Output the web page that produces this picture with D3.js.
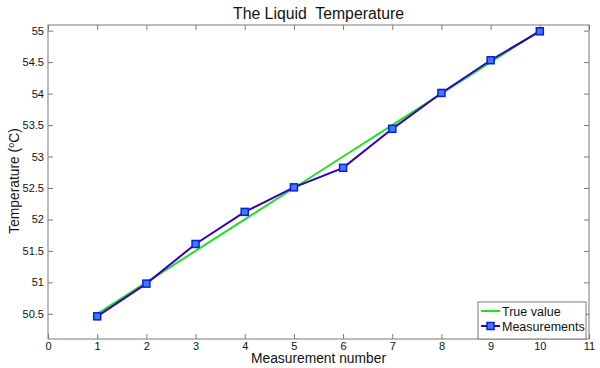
<!DOCTYPE html>
<html><head><meta charset="utf-8">
<script src="https://cdn.jsdelivr.net/npm/d3@7"></script>
<style>
body{margin:0;background:#fff;}
text{font-family:"Liberation Sans",Arial,sans-serif;fill:#111;}
</style></head>
<body><svg id="c" width="600" height="368"></svg>
<script>
const measurementNumbers = [1,2,3,4,5,6,7,8,9,10];
const trueValues = [50.5,51.0,51.5,52.0,52.5,53.0,53.5,54.0,54.5,55.0];
const measurements = [50.46,50.98,51.61,52.12,52.51,52.82,53.44,54.01,54.53,54.99];
const xTicks = [0,1,2,3,4,5,6,7,8,9,10,11];
const yTicks = [50.5,51,51.5,52,52.5,53,53.5,54,54.5,55];
const seriesNames = ["True value","Measurements"];

const svg = d3.select("#c");
const L=48, R=589, T=25, B=339;
const x = d3.scaleLinear().domain([0,11]).range([L,R]);
const y = d3.scaleLinear().domain([50.1,55.09]).range([B,T]);
const axisCol = "#7a7a7a";

svg.append("rect").attr("x",L).attr("y",T).attr("width",R-L).attr("height",B-T)
  .attr("fill","#fff").attr("stroke",axisCol).attr("stroke-width",1);

function styleAxis(g){ g.select(".domain").remove(); g.selectAll("line").attr("stroke",axisCol);
  g.selectAll("text").attr("font-size",11).attr("fill","#222"); }

svg.append("g").attr("transform",`translate(0,${B})`)
  .call(d3.axisBottom(x).tickValues(xTicks).tickFormat(d3.format("d")).tickSizeInner(-5).tickSizeOuter(0).tickPadding(3))
  .call(styleAxis);
svg.append("g").attr("transform",`translate(0,${T})`)
  .call(d3.axisTop(x).tickValues(xTicks).tickFormat("").tickSizeInner(-5).tickSizeOuter(0))
  .call(styleAxis);
svg.append("g").attr("transform",`translate(${L},0)`)
  .call(d3.axisLeft(y).tickValues(yTicks).tickFormat(d=>String(d)).tickSizeInner(-5).tickSizeOuter(0).tickPadding(4))
  .call(styleAxis);
svg.append("g").attr("transform",`translate(${R},0)`)
  .call(d3.axisRight(y).tickValues(yTicks).tickFormat("").tickSizeInner(-5).tickSizeOuter(0))
  .call(styleAxis);

const line = d3.line().x((d,i)=>x(measurementNumbers[i])).y(d=>y(d));
svg.append("path").datum(trueValues).attr("d",line).attr("fill","none")
  .attr("stroke","#22e022").attr("stroke-width",2);
svg.append("path").datum(measurements).attr("d",line).attr("fill","none")
  .attr("stroke","#3300c0").attr("stroke-width",2);
svg.selectAll(".mk").data(measurements).enter().append("rect")
  .attr("x",(d,i)=>x(measurementNumbers[i])-3.5).attr("y",d=>y(d)-3.5)
  .attr("width",7).attr("height",7).attr("fill","#3d7cf5").attr("stroke","#0a1ee0").attr("stroke-width",1.5);

// Title & labels
svg.append("text").attr("x",(L+R)/2).attr("y",19).attr("text-anchor","middle")
  .attr("font-size",15.8).attr("xml:space","preserve").text("The Liquid  Temperature");
svg.append("text").attr("x",(L+R)/2).attr("y",363).attr("text-anchor","middle")
  .attr("font-size",13.8).text("Measurement number");
const yl = svg.append("text").attr("transform",`translate(19,${(T+B)/2-1}) rotate(-90)`)
  .attr("text-anchor","middle").attr("font-size",13.8);
yl.append("tspan").text("Temperature (");
yl.append("tspan").attr("font-size",9).attr("dy",-5).text("o");
yl.append("tspan").attr("dy",5).text("C)");

// Legend
const lg = svg.append("g");
lg.append("rect").attr("x",478).attr("y",302).attr("width",108).attr("height",37)
  .attr("fill","#fff").attr("stroke",axisCol);
const items=[{c:"#22e022",m:false},{c:"#3300c0",m:true}];
items.forEach((it,i)=>{
  const yy=311+i*15;
  lg.append("line").attr("x1",481).attr("x2",500).attr("y1",yy).attr("y2",yy).attr("stroke",it.c).attr("stroke-width",2);
  if(it.m) lg.append("rect").attr("x",487).attr("y",yy-3.5).attr("width",7).attr("height",7)
    .attr("fill","#3d7cf5").attr("stroke","#0a1ee0").attr("stroke-width",1.5);
  lg.append("text").attr("x",502).attr("y",yy+4.5).attr("font-size",12.5).text(seriesNames[i]);
});
</script></body></html>
